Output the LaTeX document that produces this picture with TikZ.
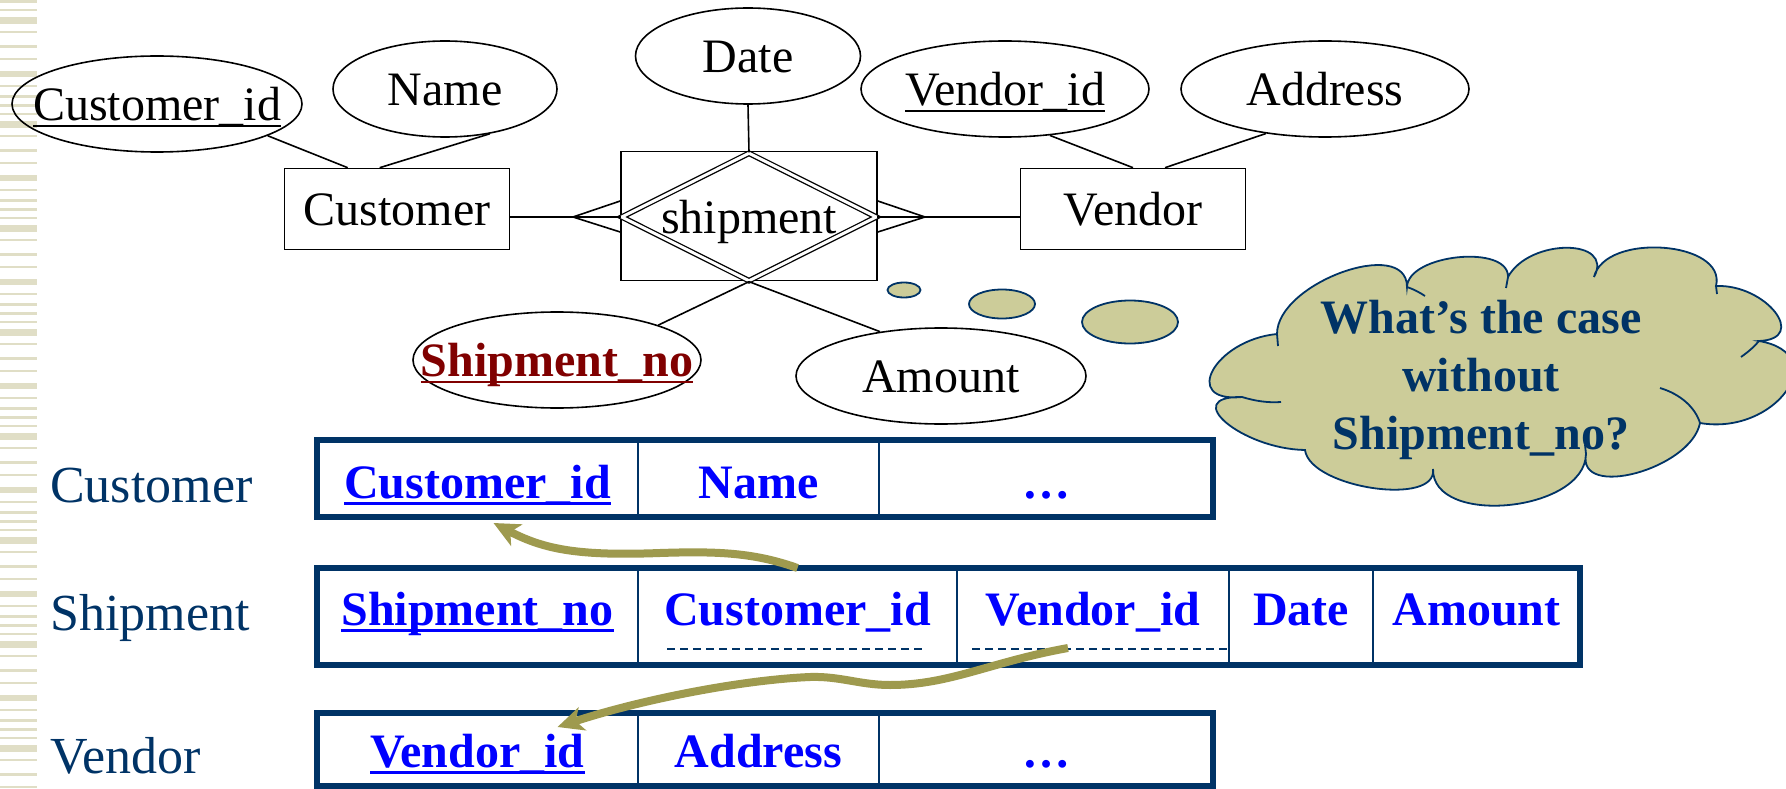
\documentclass[tikz,border=0pt]{standalone}
\usepackage{fontspec}
\setmainfont{Liberation Serif}
\usepackage{tikz}
\usetikzlibrary{shapes.geometric,arrows.meta,calc}

\definecolor{tabline}{RGB}{0,51,102}
\definecolor{keyblue}{RGB}{0,0,255}
\definecolor{shipred}{RGB}{128,0,0}
\definecolor{bubblefill}{RGB}{204,204,153}
\definecolor{fkgreen}{RGB}{158,154,78}
\definecolor{stripe}{RGB}{224,222,198}

\newsavebox{\keybox}
\newcommand{\keyul}[2][2pt]{\sbox{\keybox}{#2}\rlap{\rule[-6.5pt]{\wd\keybox}{#1}}\usebox{\keybox}}
\newcommand{\nowidth}[1]{\makebox[0pt]{#1}}

\tikzset{
  erfont/.style={font=\fontsize{48}{58}\selectfont},
  erline/.style={line width=1.6pt},
  entity/.style={draw, erline, rectangle, inner sep=0pt, minimum width=225, minimum height=81, text height=33, text depth=0, erfont},
  attr/.style={draw, erline, ellipse, inner sep=0pt, minimum height=96, text height=33, text depth=0, erfont},
  rel/.style={diamond, draw, double, double distance=3pt, line width=1.3pt, minimum width=255, minimum height=128, inner sep=0pt, text height=33, text depth=0, erfont},
  puff/.style={ellipse, draw=tabline, line width=1.8pt, fill=bubblefill, inner sep=0pt},
  bubble/.style={draw=tabline, line width=1.8pt, fill=bubblefill},
  bubbleedge/.style={draw=tabline, line width=1.8pt},
  rowlabel/.style={anchor=base west, inner sep=0pt, text=tabline, font=\fontsize{52}{60}\selectfont},
  cell/.style={draw=tabline, line width=2pt, rectangle, inner sep=0pt, outer sep=0pt, anchor=north west, text=keyblue, font=\fontsize{48}{58}\selectfont\bfseries},
  custrow/.style={cell, minimum height=77, text height=58, text depth=19},
  shiprow/.style={cell, minimum height=97, text height=57, text depth=40},
  vendrow/.style={cell, minimum height=73, text height=54, text depth=19},
  tabframe/.style={draw=tabline, line width=5.5pt},
  fkdash/.style={draw=tabline, line width=1.5pt, dash pattern=on 8pt off 5pt},
  fk/.style={draw=fkgreen, line width=8pt, -{Stealth[length=26pt,width=24pt,inset=7pt]}}
}

\begin{document}
\begin{tikzpicture}[x=1pt,y=1pt,yscale=-1]
\useasboundingbox (0,0) rectangle (1786,789);

% slide stripes
\foreach \k in {0,...,7}
  \foreach \y/\h in {0/3,9/2,17/7,31/2,45/3,58/2,71/6,85/2,95/3}
    \fill[stripe] (0,\k*104+\y) rectangle (37,\k*104+\y+\h);

% E-R diagram
\node[entity] (cust) at (397,209) {Customer};
\node[entity] (vend) at (1133,209) {Vendor};
\node[draw, erline, minimum width=256, minimum height=129, inner sep=0pt] (agg) at (749,216) {};
\node[rel] (ship) at (749,217) {\nowidth{shipment}};

\node[attr, minimum width=290] (custid) at (157,104) {\nowidth{\keyul{Customer\_id}}};
\node[attr, minimum width=224] (cname) at (445,89) {\nowidth{Name}};
\node[attr, minimum width=225] (date) at (748,56) {\nowidth{Date}};
\node[attr, minimum width=288] (vendid) at (1005,89) {\nowidth{\keyul{Vendor\_id}}};
\node[attr, minimum width=288] (vaddr) at (1325,89) {\nowidth{Address}};
\node[attr, minimum width=288, text=shipred, font=\fontsize{48}{58}\selectfont\bfseries] (shipno) at (557,360) {\nowidth{\keyul[2.5pt]{Shipment\_no}}};
\node[attr, minimum width=290] (amount) at (941,376) {\nowidth{Amount}};

\draw[erline] (custid.-16) -- ([xshift=64pt]cust.north west);
\draw[erline] (cname.-45) -- ([xshift=96pt]cust.north west);
\draw[erline] (vendid.-46) -- (vend.north);
\draw[erline] (vaddr.-143) -- ([xshift=32pt]vend.north);
\draw[erline] (date.south) -- (ship.north);
\draw[erline] (ship.south) -- (shipno.19);
\draw[erline] (ship.south) -- (amount.144);

% many side
\coordinate (footL) at (573,217);
\coordinate (footR) at (925,217);
\draw[erline] (cust.east |- ship.west) -- (ship.west);
\draw[erline] (footL) -- ([yshift=16pt]agg.west);
\draw[erline] (footL) -- ([yshift=-15pt]agg.west);
\draw[erline] (ship.east) -- (vend.west |- ship.east);
\draw[erline] (footR) -- ([yshift=16pt]agg.east);
\draw[erline] (footR) -- ([yshift=-15pt]agg.east);

% thought bubble
\node[puff, minimum width=33, minimum height=15] (puff1) at (904,290) {};
\node[puff, minimum width=66, minimum height=29] (puff2) at (1002,304) {};
\node[puff, minimum width=96, minimum height=43] (puff3) at (1130,322) {};
\draw[bubble] (1277,334) .. controls (1277,283) and (1407,236) .. (1407,287)
  .. controls (1408,254) and (1509,244) .. (1508,277)
  .. controls (1529,238) and (1615,238) .. (1594,277)
  .. controls (1605,232) and (1727,241) .. (1716,286)
  .. controls (1766,284) and (1809,339) .. (1759,341)
  .. controls (1834,354) and (1775,436) .. (1700,423)
  .. controls (1691,469) and (1577,500) .. (1586,454)
  .. controls (1585,512) and (1432,527) .. (1433,469)
  .. controls (1438,507) and (1310,488) .. (1305,450)
  .. controls (1242,449) and (1179,396) .. (1242,397)
  .. controls (1180,403) and (1215,340) .. (1277,334) -- cycle;
\draw[bubbleedge] (1407,287) .. controls (1413,289) and (1419,292) .. (1425,296);
\draw[bubbleedge] (1508,277) -- (1506,288);
\draw[bubbleedge] (1716,286) -- (1717,294);
\draw[bubbleedge] (1759,341) .. controls (1754,347) and (1748,352) .. (1741,357);
\draw[bubbleedge] (1660,388) .. controls (1680,394) and (1695,407) .. (1700,423);
\draw[bubbleedge] (1586,454) -- (1585,445);
\draw[bubbleedge] (1242,397) .. controls (1255,401) and (1268,403) .. (1281,402);
\draw[bubbleedge] (1277,334) -- (1278,346);
\node[align=center, text=tabline, font=\fontsize{48}{58}\selectfont\bfseries] (question) at (1481,380) {What’s the case\\without\\Shipment\_no?};

% relations
\node[rowlabel] (lcust) at (50,502) {Customer};
\node[rowlabel] (lship) at (50,630) {Shipment};
\node[rowlabel] (lvend) at (50,773) {Vendor};

\node[custrow, minimum width=321] (ccid) at (317,440) {\keyul[3pt]{Customer\_id}};
\node[custrow, minimum width=241] (cname2) at (ccid.north east) {Name};
\node[custrow, minimum width=334] (cmore) at (cname2.north east) {\dots};
\draw[tabframe] (ccid.north west) rectangle (cmore.south east);

\node[shiprow, minimum width=321] (sno) at (317,568) {\keyul[3pt]{Shipment\_no}};
\node[shiprow, minimum width=319] (scid) at (sno.north east) {Customer\_id};
\node[shiprow, minimum width=272] (svid) at (scid.north east) {Vendor\_id};
\node[shiprow, minimum width=144] (sdate) at (svid.north east) {Date};
\node[shiprow, minimum width=207] (samt) at (sdate.north east) {Amount};
\draw[tabframe] (sno.north west) rectangle (samt.south east);
\draw[fkdash] ($(scid.south west)+(29,-16)$) -- ($(scid.south east)+(-31,-16)$);
\draw[fkdash] ($(svid.south west)+(15,-16)$) -- ($(svid.south east)+(-1,-16)$);

\node[vendrow, minimum width=321] (vvid) at (317,713) {\keyul[3pt]{Vendor\_id}};
\node[vendrow, minimum width=241] (vaddr2) at (vvid.north east) {Address};
\node[vendrow, minimum width=334] (vmore) at (vaddr2.north east) {\dots};
\draw[tabframe] (vvid.north west) rectangle (vmore.south east);

% foreign keys
\draw[fk] (scid.north) .. controls (755,553) and (720,551) .. (660,553) .. controls (580,556) and (545,550) .. ($(ccid.south)+(16,6)$);
\draw[fk] ($(svid.south west)+(111,-17)$) .. controls (990,662) and (950,685) .. (890,685) .. controls (860,685) and (840,676) .. (810,677) .. controls (740,680) and (640,700) .. ($(vvid.north)+(80,14)$);

\end{tikzpicture}
\end{document}
